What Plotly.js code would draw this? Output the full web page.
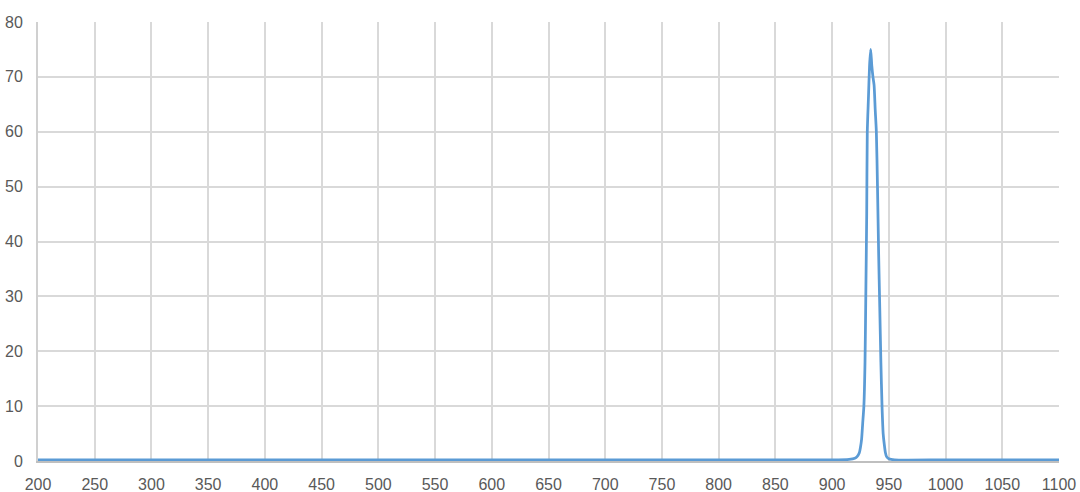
<!DOCTYPE html>
<html>
<head>
<meta charset="utf-8">
<script src="https://cdn.plot.ly/plotly-3.0.1.min.js"></script>
<style>
  html, body { margin: 0; padding: 0; background: #fff; }
  #chart { width: 1080px; height: 492px; }
</style>
</head>
<body>
<div id="chart"></div>
<script>
// wavelength (nm) and transmission (%)
const wavelength = [200, 300, 400, 500, 600, 700, 800, 900, 915, 920, 922, 924, 925, 926, 927, 928, 929,
                    929.7, 930.5, 931, 932, 933, 934, 935, 936, 937, 938, 939, 940, 941, 942, 943, 944,
                    945, 946, 947, 948, 950, 955, 1000, 1100];
const transmission = [0.2, 0.2, 0.2, 0.2, 0.2, 0.2, 0.2, 0.2, 0.3, 0.5, 0.8, 1.5, 2.5, 4, 7, 10, 18,
                      30, 45, 60, 66, 72, 75, 72, 70, 68.5, 64, 60, 50, 38, 28, 18, 10,
                      5, 3, 1.5, 0.8, 0.4, 0.2, 0.2, 0.2];

const xTicks = [200, 250, 300, 350, 400, 450, 500, 550, 600, 650, 700, 750, 800, 850, 900, 950, 1000, 1050, 1100];
const yTicks = [0, 10, 20, 30, 40, 50, 60, 70, 80];

const tickFont = { family: 'Liberation Sans, Arial, sans-serif', size: 16, color: '#595959' };

const traces = [{
  type: 'scatter', mode: 'lines',
  x: wavelength, y: transmission,
  line: { color: '#5B9BD5', width: 2.75, shape: 'spline', smoothing: 0.6 },
  hoverinfo: 'x+y',
}];

const layout = {
  width: 1080, height: 492,
  paper_bgcolor: '#fff', plot_bgcolor: '#fff',
  showlegend: false,
  margin: { l: 38, r: 21, t: 22, b: 31 },
  xaxis: {
    range: [200, 1100], tickvals: xTicks, ticktext: xTicks.map(String),
    showgrid: true, gridcolor: '#D9D9D9', gridwidth: 2,
    zeroline: false, showline: true, linecolor: '#BFBFBF', linewidth: 2,
    ticks: '', tickfont: tickFont, ticklabelstandoff: 8,
  },
  yaxis: {
    range: [0, 80], tickvals: yTicks, ticktext: yTicks.map(String),
    showgrid: true, gridcolor: '#D9D9D9', gridwidth: 2,
    zeroline: false, showline: true, linecolor: '#D0D0D0', linewidth: 2,
    ticks: '', tickfont: tickFont, ticklabelstandoff: 10,
  },
};

Plotly.newPlot('chart', traces, layout, { displayModeBar: false, staticPlot: true });
</script>
</body>
</html>
